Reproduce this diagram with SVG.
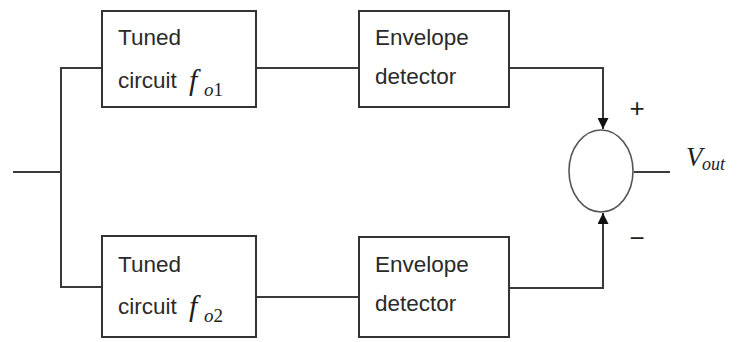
<svg xmlns="http://www.w3.org/2000/svg" width="749" height="342" viewBox="0 0 749 342">
  <style>
    .box { fill: #ffffff; stroke: #333333; stroke-width: 2; }
    .wire { fill: none; stroke: #3a3a3a; stroke-width: 2; }
    .lbl { font-family: "Liberation Sans", Arial, sans-serif; font-size: 22.5px; fill: #2a2a2a; }
    .math { font-family: "Liberation Serif", "Times New Roman", serif; font-style: italic; fill: #1e1e1e; }
    .sum { fill: #ffffff; stroke: #555555; stroke-width: 1.6; }
    .sign { font-family: "Liberation Sans", Arial, sans-serif; font-size: 26px; fill: #222222; text-anchor: middle; }
  </style>
  <defs>
    <marker id="arrow" viewBox="0 0 10 10" refX="10" refY="5" markerWidth="11" markerHeight="11" markerUnits="userSpaceOnUse" orient="auto">
      <path d="M0,0 L10,5 L0,10 Z" fill="#111111"/>
    </marker>
  </defs>

  <rect width="749" height="342" fill="#ffffff"/>

  <g id="connectors">
    <!-- input split -->
    <path class="wire" d="M13,172 H61"/>
    <path class="wire" d="M102,68 H61 V287 H102"/>
    <!-- tuned circuits to detectors -->
    <path class="wire" d="M256,68 H359"/>
    <path class="wire" d="M256,297 H359"/>
    <!-- detectors to summing junction -->
    <path class="wire" d="M509,68 H603 V129" marker-end="url(#arrow)"/>
    <path class="wire" d="M509,288 H603 V213" marker-end="url(#arrow)"/>
    <!-- output -->
    <path class="wire" d="M634,172 H670"/>
  </g>

  <g id="tuned1">
    <rect class="box" x="102" y="11" width="154" height="96"/>
    <text class="lbl" x="118" y="45">Tuned</text>
    <text class="lbl" x="118" y="88">circuit</text>
    <text class="math" x="189" y="90" font-size="30">f</text>
    <text class="math" x="204" y="96" font-size="19">o<tspan font-style="normal">1</tspan></text>
  </g>

  <g id="tuned2">
    <rect class="box" x="102" y="236" width="154" height="101"/>
    <text class="lbl" x="118" y="272">Tuned</text>
    <text class="lbl" x="118" y="314">circuit</text>
    <text class="math" x="189" y="316" font-size="30">f</text>
    <text class="math" x="204" y="322" font-size="19">o<tspan font-style="normal">2</tspan></text>
  </g>

  <g id="detector1">
    <rect class="box" x="359" y="11" width="150" height="96"/>
    <text class="lbl" x="375" y="45">Envelope</text>
    <text class="lbl" x="375" y="84">detector</text>
  </g>

  <g id="detector2">
    <rect class="box" x="359" y="237" width="150" height="100"/>
    <text class="lbl" x="375" y="272">Envelope</text>
    <text class="lbl" x="375" y="311">detector</text>
  </g>

  <g id="summer">
    <ellipse class="sum" cx="601" cy="171" rx="32" ry="41"/>
    <text class="sign" x="637" y="117">+</text>
    <text class="sign" x="637" y="247">−</text>
  </g>

  <g id="output">
    <text class="math" x="686" y="166" font-size="27">V</text>
    <text class="math" x="702" y="170" font-size="18">out</text>
  </g>
</svg>
